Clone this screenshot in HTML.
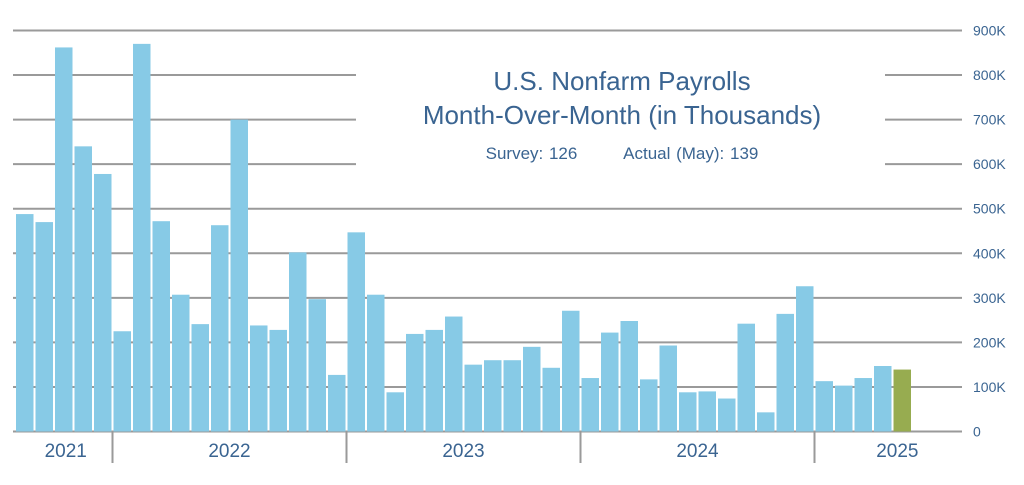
<!DOCTYPE html>
<html><head><meta charset="utf-8"><style>
body{margin:0;background:#fff;width:1024px;height:480px;overflow:hidden;font-family:"Liberation Sans",sans-serif}
</style></head><body>
<svg id="chart" width="1024" height="480" xmlns="http://www.w3.org/2000/svg"></svg>
<script>
const values=[488,470,862,640,578,225,870,472,307,241,463,700,238,228,402,297,127,447,307,88,219,228,258,150,160,160,190,143,271,120,222,248,117,193,88,90,74,242,43,264,326,113,103,120,147,139];
const tickValues=[0,100,200,300,400,500,600,700,800,900];
const tickLabels=["0","100K","200K","300K","400K","500K","600K","700K","800K","900K"];
const yearLabels=["2021","2022","2023","2024","2025"];
const yearStarts=[0,5,17,29,41];
const svg=document.getElementById('chart');
const NS='http://www.w3.org/2000/svg';
const x0=16,pitch=19.5,bw=17.5,y0=431.5,pxPer=(431.5-30.5)/900;
const xs=i=>x0+i*pitch;
const ys=v=>y0-v*pxPer;
function mk(t,a){const e=document.createElementNS(NS,t);for(const k in a)e.setAttribute(k,a[k]);svg.appendChild(e);return e;}
tickValues.forEach((v,i)=>{
 const y=ys(v);
 if(v>=600&&v<=800){
  const l1=mk('line',{x1:13,x2:356,y1:y,y2:y,stroke:'#9a9a9a','stroke-width':2});
  
  
  const l2=mk('line',{x1:885,x2:962,y1:y,y2:y,stroke:'#9a9a9a','stroke-width':2});
  
  
 } else {
  const l=mk('line',{x1:13,x2:962,y1:y,y2:y,stroke:'#9a9a9a','stroke-width':2});
  
  
 }
 const t=mk('text',{x:973,y:y+5,fill:'#3a6491','font-size':14});
 t.textContent=tickLabels[i];
 
 
});
values.forEach((v,i)=>{
 const r=mk('rect',{x:xs(i),y:ys(v),width:bw,height:y0-ys(v),fill:i===values.length-1?'#97ac50':'#87cae6'});
 
 
});
yearStarts.forEach((s,i)=>{
 const end=i<yearStarts.length-1?yearStarts[i+1]:values.length+3.5;
 const a=xs(s)-1,b=xs(end)-1;
 if(i>0){const d=mk('line',{x1:a,x2:a,y1:432,y2:463,stroke:'#9a9a9a','stroke-width':2});
  
  }
 const t=mk('text',{x:(a+b)/2+(i===0?2:0),y:457,fill:'#3a6491','font-size':19,'text-anchor':'middle'});
 t.textContent=yearLabels[i];
 
 
});
</script>
<div style="position:absolute;left:372px;top:64px;width:500px;text-align:center;color:#3a6491;font-size:26px;line-height:34px">U.S. Nonfarm Payrolls<br>Month-Over-Month (in Thousands)</div>
<div style="position:absolute;left:372px;top:144px;width:500px;text-align:center;color:#3a6491;font-size:17px;word-spacing:1px">Survey: 126&nbsp;&nbsp;&nbsp;&nbsp;&nbsp;&nbsp;&nbsp;&nbsp;Actual (May): 139</div>
</body></html>
